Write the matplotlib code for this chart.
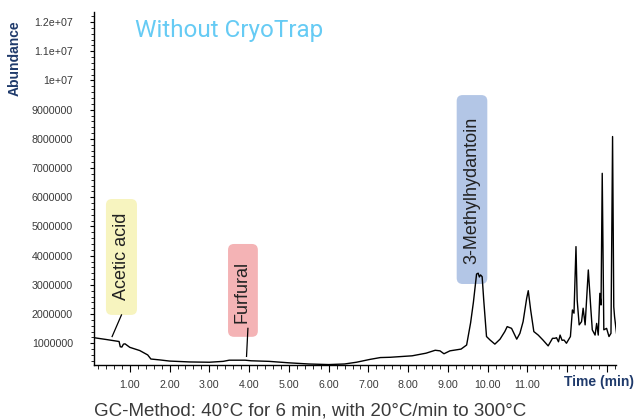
import matplotlib
matplotlib.use("Agg")
import matplotlib.pyplot as plt
from matplotlib.patches import FancyBboxPatch
from matplotlib.ticker import FixedLocator, MultipleLocator

plt.rcParams["font.family"] = ["Liberation Sans", "DejaVu Sans"]

# chromatogram trace (time in min, abundance in counts)
time_min = [0.10, 0.40, 0.73, 0.76, 0.80, 0.84, 0.88, 0.93, 1.00, 1.25,
            1.45, 1.53, 1.75, 2.00, 2.50, 3.00, 3.35, 3.50, 3.90, 4.05,
            4.50, 5.00, 5.50, 6.00, 6.40, 6.70, 7.05, 7.30, 7.55, 8.10,
            8.45, 8.68, 8.80, 8.90, 9.05, 9.33, 9.47, 9.57, 9.64, 9.72,
            9.76, 9.79, 9.82, 9.86, 9.90, 9.97, 10.06, 10.18, 10.31, 10.43,
            10.49, 10.60, 10.73, 10.81, 10.89, 10.98, 11.02, 11.08, 11.16, 11.27,
            11.39, 11.52, 11.63, 11.69, 11.73, 11.78, 11.82, 11.87, 11.92, 11.98,
            12.08, 12.13, 12.17, 12.22, 12.25, 12.30, 12.36, 12.40, 12.45, 12.53,
            12.59, 12.63, 12.70, 12.74, 12.78, 12.82, 12.85, 12.88, 12.92, 12.99,
            13.05, 13.10, 13.14, 13.17, 13.19, 13.24]
abundance_m = [1.19, 1.13, 1.06, 0.88, 0.87, 0.97, 0.98, 0.93, 0.86, 0.75,
               0.60, 0.46, 0.43, 0.39, 0.36, 0.35, 0.38, 0.42, 0.42, 0.40,
               0.38, 0.33, 0.29, 0.27, 0.29, 0.35, 0.45, 0.51, 0.52, 0.57,
               0.66, 0.76, 0.74, 0.64, 0.74, 0.80, 0.94, 1.70, 2.40, 3.37,
               3.40, 3.27, 3.34, 3.28, 2.48, 1.23, 1.11, 0.97, 1.14, 1.40,
               1.57, 1.51, 1.14, 1.34, 1.74, 2.54, 2.80, 2.14, 1.40, 1.28,
               1.11, 0.91, 1.17, 1.17, 1.19, 1.05, 1.28, 1.10, 1.11, 1.00,
               1.23, 2.14, 2.03, 4.31, 2.48, 1.63, 1.74, 2.20, 1.63, 3.51,
               2.25, 1.46, 1.28, 1.68, 1.28, 2.71, 2.31, 6.82, 1.46, 1.51,
               1.23, 1.34, 8.08, 2.25, 1.91, 1.34]
abundance = [v * 1e6 for v in abundance_m]

y_ticks = [1e6, 2e6, 3e6, 4e6, 5e6, 6e6, 7e6, 8e6, 9e6, 1e7, 1.1e7, 1.2e7]
y_labels = ["1000000", "2000000", "3000000", "4000000", "5000000", "6000000",
            "7000000", "8000000", "9000000", "1e+07", "1.1e+07", "1.2e+07"]
x_ticks = [1, 2, 3, 4, 5, 6, 7, 8, 9, 10, 11, 12, 13]
x_labels = ["1.00", "2.00", "3.00", "4.00", "5.00", "6.00", "7.00", "8.00",
            "9.00", "10.00", "11.00", "", ""]

# compound labels and their box colours
peaks = ["Acetic acid", "Furfural", "3-Methylhydantoin"]
peak_colors = ["#f7f4bf", "#f4b3b5", "#b3c6e6"]

navy = "#1f3a6b"
grey = "#3a3a3a"

fig = plt.figure(figsize=(6.38, 4.19), dpi=100)
ax = fig.add_axes([0.147, 0.129, 0.8185, 0.842])

ax.plot(time_min, abundance, color="black", lw=1.0, zorder=3)

ax.set_xlim(0.094, 13.226)
ax.set_ylim(0.257e6, 12.34e6)

for s in ["top", "right"]:
    ax.spines[s].set_visible(False)
ax.spines["left"].set_linewidth(1.0)
ax.spines["bottom"].set_linewidth(1.0)

ax.yaxis.set_major_locator(FixedLocator(y_ticks))
ax.set_yticklabels(y_labels)
ax.yaxis.set_minor_locator(MultipleLocator(0.2e6))
ax.xaxis.set_major_locator(FixedLocator(x_ticks))
ax.set_xticklabels(x_labels)
ax.xaxis.set_minor_locator(MultipleLocator(0.2))

ax.tick_params(axis="y", which="major", length=3, width=0.8, pad=12,
               labelsize=7.7, labelcolor=grey)
ax.tick_params(axis="y", which="minor", length=2, width=0.6)
ax.tick_params(axis="x", which="major", length=5, width=0.8, pad=6,
               labelsize=7.7, labelcolor=grey)
ax.tick_params(axis="x", which="minor", length=3, width=0.6)

# mutation_aspect keeps the rounded corners circular in pixels
aspect = (1e6 / 29.2) * 39.75


def label_box(name, color, t0, t1, v0, v1, tc, vc, line):
    box = FancyBboxPatch((t0, v0), t1 - t0, v1 - v0,
                         boxstyle="round,pad=0,rounding_size=0.15",
                         mutation_aspect=aspect, fc=color, ec="none", zorder=2)
    ax.add_patch(box)
    ax.text(tc, vc, name, rotation=90, ha="center", va="center",
            fontsize=13, color="#222222", zorder=4)
    if line is not None:
        ax.plot(line[0], line[1], color="black", lw=0.9, zorder=4)


label_box(peaks[0], peak_colors[0], 0.40, 1.18, 1.97e6, 5.94e6, 0.79, 3.98e6,
          ([0.79, 0.555], [1.97e6, 1.23e6]))
label_box(peaks[1], peak_colors[1], 3.47, 4.22, 1.22e6, 4.40e6, 3.81, 2.77e6,
          ([3.97, 3.935], [1.51e6, 0.55e6]))
label_box(peaks[2], peak_colors[2], 9.22, 9.99, 3.03e6, 9.50e6, 9.60, 6.23e6, None)

fig.text(229.5 / 638, 1 - 37 / 419, "Without CryoTrap", ha="center", va="baseline",
         fontsize=17.5, color="#66cbf4", family=["Roboto", "DejaVu Sans"])
fig.text(15 / 638, 1 - 58 / 419, "Abundance", rotation=90, ha="center", va="center",
         fontsize=10, fontweight="bold", color=navy)
fig.text(599 / 638, 1 - 381.5 / 419, "Time (min)", ha="center", va="center",
         fontsize=10, fontweight="bold", color=navy)
fig.text(310 / 638, 1 - 410.5 / 419,
         "GC-Method: 40°C for 6 min, with 20°C/min to 300°C",
         ha="center", va="center", fontsize=13.5, color=grey)

fig.savefig("out.png", dpi=100)
